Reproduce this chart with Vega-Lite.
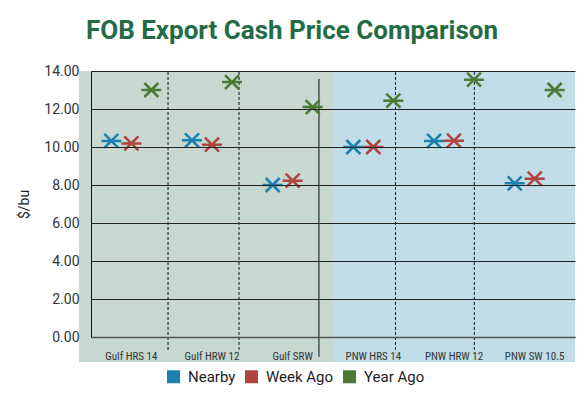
{
  "$schema": "https://vega.github.io/schema/vega-lite/v6.json",
  "width": 484,
  "height": 266,
  "autosize": {"type": "none"},
  "padding": {"left": 91, "top": 71, "right": 9, "bottom": 68},
  "background": "white",
  "title": {
    "text": "FOB Export Cash Price Comparison",
    "font": "Roboto",
    "fontSize": 26,
    "fontWeight": "bold",
    "color": "#226b44",
    "anchor": "middle",
    "dx": -41,
    "offset": -1,
    "baseline": "alphabetic"
  },
  "config": {
    "view": {"stroke": null},
    "font": "Roboto",
    "axisY": {
      "tickCount": 8,
      "grid": true,
      "gridColor": "#222",
      "gridWidth": 1,
      "ticks": false,
      "domain": true,
      "domainColor": "#111",
      "domainWidth": 1,
      "labelFont": "Roboto",
      "labelFontSize": 14,
      "labelColor": "#333",
      "labelPadding": 12,
      "labelOverlap": false,
      "titleFont": "Roboto",
      "titleFontSize": 14,
      "titleFontWeight": "normal",
      "titleColor": "#222",
      "titlePadding": 12
    }
  },
  "datasets": {
    "prices": [
      {"grade": "Gulf HRS 14", "series": "Nearby", "price": 10.32},
      {"grade": "Gulf HRS 14", "series": "Week Ago", "price": 10.19},
      {"grade": "Gulf HRS 14", "series": "Year Ago", "price": 13.0},
      {"grade": "Gulf HRW 12", "series": "Nearby", "price": 10.35},
      {"grade": "Gulf HRW 12", "series": "Week Ago", "price": 10.12},
      {"grade": "Gulf HRW 12", "series": "Year Ago", "price": 13.42},
      {"grade": "Gulf SRW", "series": "Nearby", "price": 8.0},
      {"grade": "Gulf SRW", "series": "Week Ago", "price": 8.23},
      {"grade": "Gulf SRW", "series": "Year Ago", "price": 12.1},
      {"grade": "PNW HRS 14", "series": "Nearby", "price": 10.0},
      {"grade": "PNW HRS 14", "series": "Week Ago", "price": 10.0},
      {"grade": "PNW HRS 14", "series": "Year Ago", "price": 12.44},
      {"grade": "PNW HRW 12", "series": "Nearby", "price": 10.32},
      {"grade": "PNW HRW 12", "series": "Week Ago", "price": 10.33},
      {"grade": "PNW HRW 12", "series": "Year Ago", "price": 13.54},
      {"grade": "PNW SW 10.5", "series": "Nearby", "price": 8.09},
      {"grade": "PNW SW 10.5", "series": "Week Ago", "price": 8.33},
      {"grade": "PNW SW 10.5", "series": "Year Ago", "price": 13.0}
    ],
    "regions": [
      {"region": "Gulf", "start": -0.149, "end": 3.0},
      {"region": "PNW", "start": 3.0, "end": 6.0}
    ],
    "dashed": [
      {"at": 0.955},
      {"at": 1.835},
      {"at": 3.775},
      {"at": 4.752}
    ],
    "solid": [
      {"at": 2.826}
    ]
  },
  "resolve": {"scale": {"x": "independent"}, "axis": {"x": "independent"}},
  "layer": [
    {
      "data": {"name": "regions"},
      "mark": {"type": "rect", "clip": false},
      "encoding": {
        "x": {"field": "start", "type": "quantitative", "scale": {"domain": [0, 6], "nice": false, "zero": false}, "axis": null},
        "x2": {"field": "end"},
        "y": {
          "datum": 14,
          "type": "quantitative",
          "scale": {"domain": [0, 14], "nice": false},
          "axis": {"values": [0, 2, 4, 6, 8, 10, 12, 14], "format": ".2f", "title": "$/bu", "zindex": 1}
        },
        "y2": {"datum": -1.316},
        "fill": {"field": "region", "type": "nominal", "scale": {"domain": ["Gulf", "PNW"], "range": ["#c6d8d0", "#c0dde8"]}, "legend": null}
      }
    },
    {
      "data": {"name": "dashed"},
      "mark": {"type": "rule", "clip": false, "color": "#111", "strokeWidth": 1, "strokeDash": [3, 2]},
      "encoding": {
        "x": {"field": "at", "type": "quantitative", "scale": {"domain": [0, 6], "nice": false, "zero": false}, "axis": null},
        "y": {"datum": 13.95, "type": "quantitative", "axis": {"values": [0, 2, 4, 6, 8, 10, 12, 14], "format": ".2f", "title": "$/bu", "zindex": 1}},
        "y2": {"datum": -0.8}
      }
    },
    {
      "data": {"name": "solid"},
      "mark": {"type": "rule", "clip": false, "color": "#111", "strokeWidth": 1},
      "encoding": {
        "x": {"field": "at", "type": "quantitative", "scale": {"domain": [0, 6], "nice": false, "zero": false}, "axis": null},
        "y": {"datum": 13.58, "type": "quantitative", "axis": {"values": [0, 2, 4, 6, 8, 10, 12, 14], "format": ".2f", "title": "$/bu", "zindex": 1}},
        "y2": {"datum": -1.05}
      }
    },
    {
      "data": {"name": "prices"},
      "mark": {"type": "square", "opacity": 0},
      "encoding": {
        "y": {"field": "price", "type": "quantitative", "axis": {"values": [0, 2, 4, 6, 8, 10, 12, 14], "format": ".2f", "title": "$/bu", "zindex": 1}},
        "color": {
          "field": "series",
          "type": "nominal",
          "scale": {"domain": ["Nearby", "Week Ago", "Year Ago"], "range": ["#1a80b0", "#b0443f", "#4a7a36"]},
          "legend": {
            "title": null,
            "orient": "none",
            "direction": "horizontal",
            "legendX": 75,
            "legendY": 298,
            "symbolType": "square",
            "symbolSize": 169,
            "symbolStrokeWidth": 0,
            "labelFont": "Roboto",
            "labelFontSize": 15,
            "labelColor": "#222",
            "labelOffset": 7,
            "columnPadding": 8
          }
        }
      }
    },
    {
      "data": {"name": "prices"},
      "mark": {
        "type": "point",
        "shape": "M-1,0H1M-0.7,-0.7L0.7,0.7M-0.7,0.7L0.7,-0.7",
        "filled": false,
        "size": 400,
        "strokeWidth": 2.5,
        "opacity": 1
      },
      "encoding": {
        "x": {
          "field": "grade",
          "type": "nominal",
          "sort": ["Gulf HRS 14", "Gulf HRW 12", "Gulf SRW", "PNW HRS 14", "PNW HRW 12", "PNW SW 10.5"],
          "scale": {"type": "band", "paddingInner": 0, "paddingOuter": 0},
          "axis": {
            "title": null,
            "labelAngle": 0,
            "labelDx": -17,
            "labelPadding": 13,
            "labelFontSize": 11,
            "labelFont": "'Roboto Condensed', 'Liberation Sans Narrow', Roboto, sans-serif",
            "labelColor": "#333",
            "ticks": false,
            "grid": false,
            "domain": true,
            "domainColor": "#555",
            "domainWidth": 1.5,
            "zindex": 1
          }
        },
        "xOffset": {
          "field": "series",
          "type": "nominal",
          "sort": ["Nearby", "Week Ago", "Year Ago"],
          "scale": {"type": "band", "paddingInner": 0, "paddingOuter": 0.517}
        },
        "y": {"field": "price", "type": "quantitative", "axis": {"values": [0, 2, 4, 6, 8, 10, 12, 14], "format": ".2f", "title": "$/bu", "zindex": 1}},
        "stroke": {
          "field": "series",
          "type": "nominal",
          "scale": {"domain": ["Nearby", "Week Ago", "Year Ago"], "range": ["#1a80b0", "#b0443f", "#4a7a36"]},
          "legend": null
        }
      }
    }
  ]
}
